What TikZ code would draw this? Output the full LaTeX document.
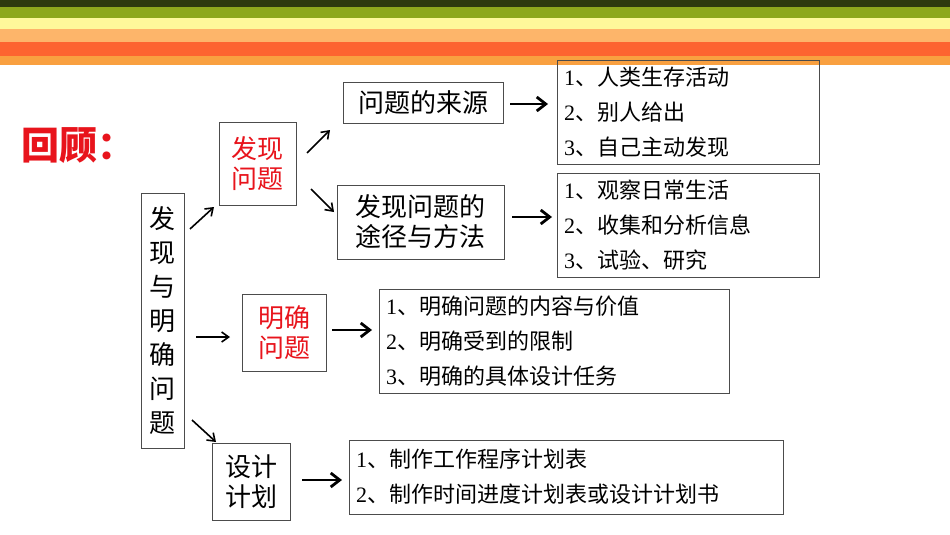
\documentclass[tikz,border=0pt]{standalone}
\usepackage{fontspec}
\newfontfamily\cjk{Noto Sans CJK SC}
\setmainfont{Liberation Serif}
\usetikzlibrary{arrows.meta}
\definecolor{s1}{HTML}{2E3A0E}\definecolor{s2}{HTML}{8EA81C}\definecolor{s3}{HTML}{FEF89A}
\definecolor{s4}{HTML}{FDB56A}\definecolor{s5}{HTML}{FD6430}\definecolor{s6}{HTML}{F9A040}
\definecolor{rd}{HTML}{E8141C}
\newcommand{\dn}{{\cjk 、}}
\begin{document}
\begin{tikzpicture}[x=1pt,y=-1pt,
 bx/.style={draw=black!70,line width=0.8pt,inner sep=0pt},
 big/.style={font=\cjk\fontsize{26}{30}\selectfont,align=center},
 li/.style={font=\fontsize{22}{35}\selectfont,align=left,anchor=west},
 sa/.style={-{Straight Barb[length=7pt,width=10pt,line width=1.6pt]},line width=1.6pt},
 ta/.style={-{Straight Barb[length=9pt,width=14pt]},line width=2.8pt}]
\useasboundingbox (0,0) rectangle (950,535);
\fill[white] (0,0) rectangle (950,535);
\fill[s1] (0,0) rectangle (950,7);
\fill[s2] (0,7) rectangle (950,18);
\fill[s3] (0,18) rectangle (950,29);
\fill[s4] (0,29) rectangle (950,42);
\fill[s5] (0,42) rectangle (950,56);
\fill[s6] (0,56) rectangle (950,65);
\node[font=\cjk\bfseries\fontsize{38}{40}\selectfont,text=rd,anchor=west] (t) at (18,146) {回顾：};
\node[bx,minimum width=43pt,minimum height=255pt,big] (m) at (162.5,320.5) {发\\[4pt]现\\[4pt]与\\[4pt]明\\[4pt]确\\[4pt]问\\[4pt]题};
\node[bx,minimum width=77pt,minimum height=83pt,big,text=rd] (f) at (257.5,163.5) {发现\\问题};
\node[bx,minimum width=160pt,minimum height=41pt,big] (s) at (423,102.5) {问题的来源};
\node[bx,minimum width=167pt,minimum height=74pt,big] (w) at (420.5,222) {发现问题的\\途径与方法};
\node[bx,minimum width=84pt,minimum height=77pt,big,text=rd] (c) at (284,332.5) {明确\\问题};
\node[bx,minimum width=78pt,minimum height=77pt,big] (d) at (251,481.5) {设计\\计划};
\node[bx,minimum width=262pt,minimum height=104pt] (l1) at (688,112) {};
\node[bx,minimum width=262pt,minimum height=104pt] (l2) at (688,225) {};
\node[bx,minimum width=350pt,minimum height=104pt] (l3) at (554,341) {};
\node[bx,minimum width=434pt,minimum height=74pt] (l4) at (566,477) {};
\node[li] (t1) at ([xshift=4pt]l1.west) {1\dn{\cjk 人类生存活动}\\2\dn{\cjk 别人给出}\\3\dn{\cjk 自己主动发现}};
\node[li] (t2) at ([xshift=4pt]l2.west) {1\dn{\cjk 观察日常生活}\\2\dn{\cjk 收集和分析信息}\\3\dn{\cjk 试验、研究}};
\node[li] (t3) at ([xshift=4pt]l3.west) {1\dn{\cjk 明确问题的内容与价值}\\2\dn{\cjk 明确受到的限制}\\3\dn{\cjk 明确的具体设计任务}};
\node[li] (t4) at ([xshift=4pt]l4.west) {1\dn{\cjk 制作工作程序计划表}\\2\dn{\cjk 制作时间进度计划表或设计计划书}};
\coordinate (a1) at (190,229);\coordinate (b1) at (214,207);
\coordinate (a2) at (307,153);\coordinate (b2) at (330,130);
\coordinate (a3) at (311,189);\coordinate (b3) at (334,212);
\coordinate (a4) at (196,337);\coordinate (b4) at (230,337);
\coordinate (a5) at (192,420);\coordinate (b5) at (216,442);
\draw[sa] (a1)--(b1);\draw[sa] (a2)--(b2);\draw[sa] (a3)--(b3);\draw[sa] (a4)--(b4);\draw[sa] (a5)--(b5);
\coordinate (c1) at (510,104);\coordinate (d1) at (548,104);
\coordinate (c2) at (512,217);\coordinate (d2) at (552,217);
\coordinate (c3) at (332,330);\coordinate (d3) at (372,330);
\coordinate (c4) at (302,480);\coordinate (d4) at (342,480);
\draw[ta] (c1)--(d1);\draw[ta] (c2)--(d2);\draw[ta] (c3)--(d3);\draw[ta] (c4)--(d4);
\end{tikzpicture}
\end{document}
